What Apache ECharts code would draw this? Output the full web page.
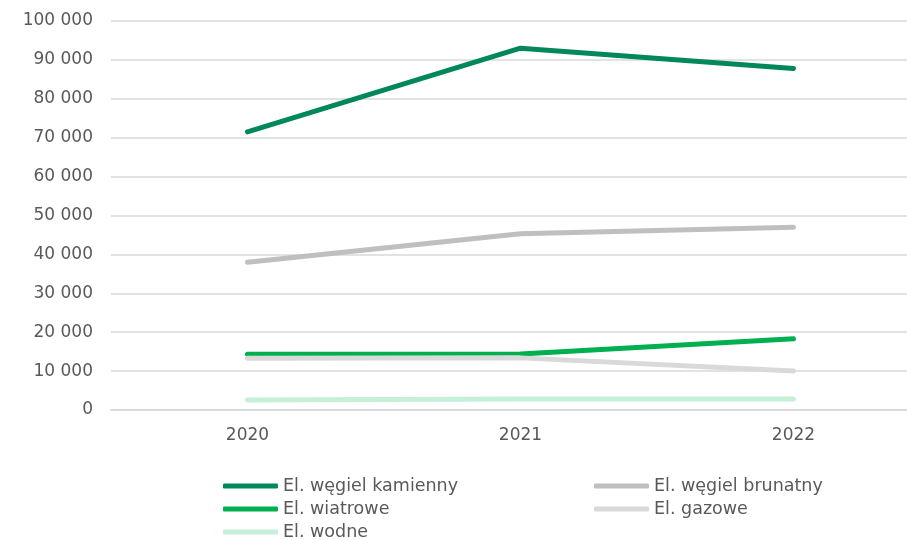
<!DOCTYPE html>
<html>
<head>
<meta charset="utf-8">
<script src="https://cdn.jsdelivr.net/npm/echarts@6/dist/echarts.min.js"></script>
<style>html,body{margin:0;padding:0;background:#fff;}#c{width:907px;height:540px;}</style>
</head>
<body>
<div id="c"></div>
<script>
const categories = ['2020', '2021', '2022'];
const seriesNames = ['El. węgiel kamienny', 'El. węgiel brunatny', 'El. wiatrowe', 'El. gazowe', 'El. wodne'];
const kamienny = [71500, 93000, 87800];
const brunatny = [38000, 45300, 47000];
const wiatrowe = [14300, 14400, 18300];
const gazowe = [13300, 13400, 10000];
const wodne = [2600, 2800, 2800];
const colors = ['#00875A', '#BFBFBF', '#00B050', '#D9D9D9', '#C6EFD8'];
const yMin = 0, yMax = 100000, yStep = 10000;

const values = [kamienny, brunatny, wiatrowe, gazowe, wodne];
const fontFamily = 'DejaVu Sans';
const fmt = v => String(v).replace(/\B(?=(\d{3})+(?!\d))/g, ' ');
const catIdx = categories.map((c, i) => i);

const chart = echarts.init(document.getElementById('c'), null, {renderer: 'canvas'});
const legendCommon = {
  orient: 'vertical',
  icon: 'roundRect',
  itemWidth: 55,
  itemHeight: 5,
  itemGap: 5,
  height: 120,
  padding: 0,
  textStyle: {color: '#595959', fontFamily: fontFamily, fontSize: 17.5, lineHeight: 18},
  selectedMode: false
};
chart.setOption({
  animation: false,
  color: colors,
  grid: {left: 111, top: 21, right: 0, bottom: 130, containLabel: false},
  legend: [
    Object.assign({}, legendCommon, {left: 223, top: 477, data: [seriesNames[0], seriesNames[2], seriesNames[4]]}),
    Object.assign({}, legendCommon, {left: 594, top: 477, data: [seriesNames[1], seriesNames[3]]})
  ],
  xAxis: {
    type: 'value',
    min: -0.5,
    max: 2.416,
    axisLine: {show: true, lineStyle: {color: '#D9D9D9', width: 1.5}},
    axisTick: {show: false, customValues: catIdx},
    splitLine: {show: false},
    axisLabel: {
      color: '#595959', fontFamily: fontFamily, fontSize: 17, margin: 17,
      customValues: catIdx,
      showMinLabel: true, showMaxLabel: true,
      formatter: v => categories[Math.round(v)] || ''
    }
  },
  yAxis: {
    type: 'value',
    min: yMin, max: yMax, interval: yStep,
    axisLine: {show: false},
    axisTick: {show: false},
    splitLine: {lineStyle: {color: '#D9D9D9', width: 1.5}},
    axisLabel: {color: '#595959', fontFamily: fontFamily, fontSize: 17, margin: 18, formatter: fmt}
  },
  series: seriesNames.map((n, i) => ({
    name: n,
    type: 'line',
    data: values[i].map((v, j) => [catIdx[j], v]),
    symbol: 'none',
    smooth: false,
    lineStyle: {width: 5, color: colors[i], cap: 'round', join: 'round'},
    itemStyle: {color: colors[i]}
  }))
});
</script>
</body>
</html>
